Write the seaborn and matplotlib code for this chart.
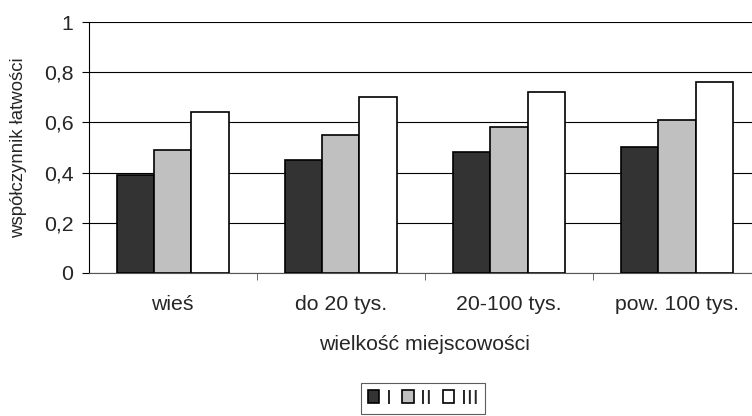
import numpy as np
import pandas as pd
import seaborn as sns
from matplotlib import pyplot as plt
from matplotlib.ticker import MultipleLocator, FuncFormatter

# Data
categories = ['wieś', 'do 20 tys.', '20-100 tys.', 'pow. 100 tys.']
series_names = ['I', 'II', 'III']
values_I = [0.39, 0.45, 0.48, 0.50]
values_II = [0.49, 0.55, 0.58, 0.61]
values_III = [0.64, 0.70, 0.72, 0.76]
colors = ['#333333', '#c0c0c0', '#ffffff']

df = pd.DataFrame({
    'category': categories * 3,
    'series': np.repeat(series_names, len(categories)),
    'value': values_I + values_II + values_III,
})

sns.set_style('white')
plt.rcParams['font.family'] = ['Liberation Sans', 'DejaVu Sans']
fs = 15.3

fig = plt.figure(figsize=(7.52, 4.16), dpi=100)
# the plot area runs past the right edge of the picture, as in the original
ax = fig.add_axes([0.118, 0.344, 0.894, 0.603])

sns.barplot(data=df, x='category', y='value', hue='series', palette=colors,
            edgecolor='black', linewidth=1.2, width=0.665, saturation=1,
            errorbar=None, ax=ax, zorder=3)

ax.set_ylim(0, 1)
ax.set_xlim(-0.5, 3.5)
ax.yaxis.set_major_locator(MultipleLocator(0.2))
ax.yaxis.set_major_formatter(FuncFormatter(lambda v, _: f'{v:g}'.replace('.', ',')))
ax.grid(axis='y', color='black', linewidth=0.8, zorder=0)

# Axis spines and ticks
for side in ['top', 'right']:
    ax.spines[side].set_visible(False)
ax.spines['left'].set_color('black')
ax.spines['bottom'].set_color('#555555')
ax.tick_params(axis='y', length=5, direction='out', left=True, color='black', labelsize=fs, pad=6)
ax.set_xticks([0.5, 1.5, 2.5], minor=True)
ax.tick_params(axis='x', which='major', length=0, labelsize=fs, pad=16)
ax.tick_params(axis='x', which='minor', length=5, direction='out', bottom=True, color='#555555')

ax.set_xlabel('wielkość miejscowości', size=fs, labelpad=15)
ax.set_ylabel('współczynnik łatwości', size=13.4, labelpad=12)

leg = ax.legend(loc='upper center', bbox_to_anchor=(0.5625, 0.08), bbox_transform=fig.transFigure,
                ncol=3, frameon=True, fancybox=False, edgecolor='#333333', fontsize=fs,
                handlelength=0.55, handleheight=0.55, handletextpad=0.3, columnspacing=0.5,
                borderpad=0.3, borderaxespad=0)
leg.get_frame().set_linewidth(0.8)

fig.savefig('out.png', dpi=100)
plt.close()
